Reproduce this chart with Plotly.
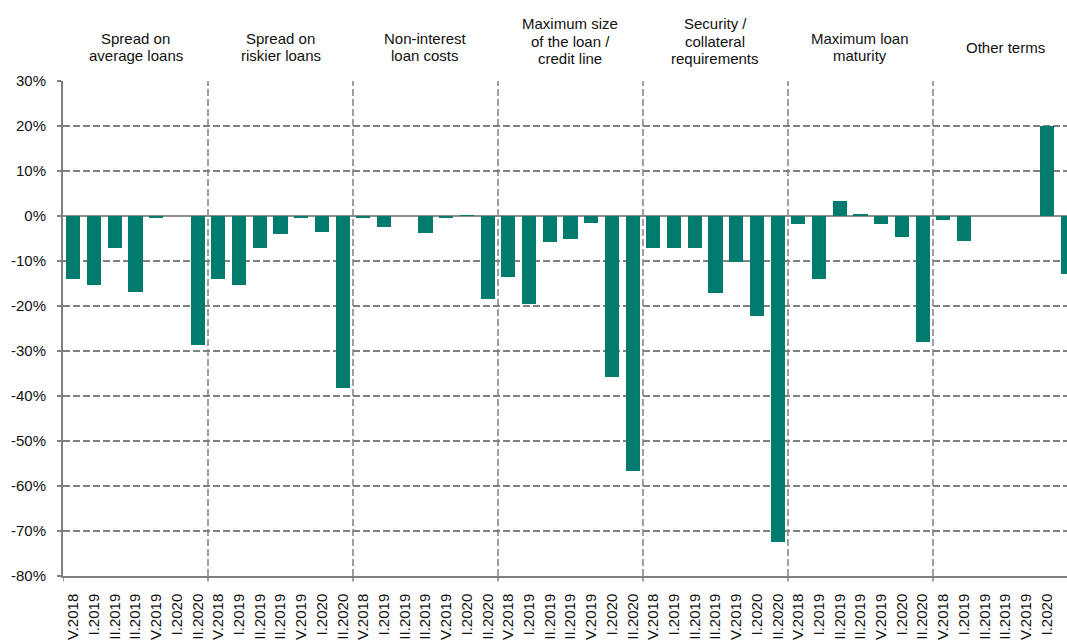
import plotly.graph_objects as go

quarters = ["IV.2018", "I.2019", "II.2019", "III.2019", "IV.2019", "I.2020", "II.2020"]

group_names = [
    ["Spread on", "average loans"],
    ["Spread on", "riskier loans"],
    ["Non-interest", "loan costs"],
    ["Maximum size", "of the loan /", "credit line"],
    ["Security /", "collateral", "requirements"],
    ["Maximum loan", "maturity"],
    ["Other terms"],
]

spread_average = [-14.1, -15.3, -7.1, -16.8, -0.4, 0.0, -28.7]
spread_riskier = [-14.1, -15.3, -7.1, -4.0, -0.4, -3.6, -38.3]
non_interest = [-0.4, -2.5, 0.0, -3.7, -0.4, 0.2, -18.4]
max_size = [-13.6, -19.5, -5.7, -5.2, -1.6, -35.7, -56.6]
collateral = [-7.1, -7.1, -7.1, -17.2, -10.2, -22.2, -72.5]
maturity = [-1.7, -14.1, 3.3, 0.5, -1.7, -4.7, -27.9]
other_terms = [-0.9, -5.5, 0.0, 0.0, 0.0, 20.0, -12.8]

y_ticks = [30, 20, 10, 0, -10, -20, -30, -40, -50, -60, -70, -80]

series = [spread_average, spread_riskier, non_interest, max_size,
          collateral, maturity, other_terms]

# flatten into one bar trace, positions 0..n-1
values = [v for s in series for v in s]
labels = quarters * len(series)
xs = list(range(len(values)))
n_q = len(quarters)

TEAL = "#007b6e"
GRID = "#808080"
FONT = "Liberation Sans, Arial, sans-serif"

TOP = 81          # plot top in px
LINE_H = 17.5

fig = go.Figure()
fig.add_trace(go.Bar(x=xs, y=values, width=0.68,
                     marker=dict(color=TEAL, line=dict(width=0)),
                     showlegend=False))

shapes = []
# dashed dividers between groups + small ticks under the axis
for g in range(1, len(series)):
    xb = g * n_q - 0.5
    shapes.append(dict(type="line", xref="x", yref="paper", x0=xb, x1=xb, y0=0, y1=1,
                       line=dict(color=GRID, width=1.5, dash="7px,3px"), layer="between"))
for g in range(len(series)):
    xb = g * n_q - 0.5
    shapes.append(dict(type="line", xref="x", yref="paper", x0=xb, x1=xb, y0=0, y1=-0.011,
                       line=dict(color=GRID, width=1.5)))

annotations = []
for g, lines in enumerate(group_names):
    n = len(lines)
    center = 41 if n == 3 else 47   # px from top
    for i, line in enumerate(lines):
        ypx = center + (i - (n - 1) / 2) * LINE_H
        annotations.append(dict(x=g * n_q + (n_q - 1) / 2, y=1, xref="x", yref="paper",
                                text=line, showarrow=False, xanchor="center", yanchor="middle",
                                yshift=TOP - ypx,
                                font=dict(family=FONT, size=15, color="#111111")))

fig.update_layout(
    width=1067, height=641,
    template="none",
    plot_bgcolor="white", paper_bgcolor="white",
    margin=dict(l=63, r=0, t=TOP, b=65),
    bargap=0,
    shapes=shapes,
    annotations=annotations,
    font=dict(family=FONT, size=15, color="#111111"),
)

fig.update_xaxes(
    range=[-0.5, 47.97],
    tickmode="array", tickvals=xs, ticktext=labels,
    tickangle=-90, ticks="", ticklabelstandoff=10,
    tickfont=dict(family=FONT, size=15, color="#111111"),
    showgrid=False, zeroline=False,
    showline=True, linecolor=GRID, linewidth=1.5,
    automargin=False,
)

fig.update_yaxes(
    range=[-80, 30],
    tickmode="array", tickvals=y_ticks, ticktext=[f"{v}%" for v in y_ticks],
    ticks="outside", ticklen=4, tickcolor=GRID, tickwidth=1.5,
    ticklabelstandoff=8,
    tickfont=dict(family=FONT, size=15, color="#111111"),
    showgrid=True, gridcolor=GRID, gridwidth=1.5, griddash="7px,3px",
    zeroline=True, zerolinecolor="#8c8c8c", zerolinewidth=2,
    showline=True, linecolor=GRID, linewidth=2,
    automargin=False,
)

# figure fills the window exactly: drop the default page margin
fig.write_html("out.html", config={"displayModeBar": False},
               post_script="document.body.style.margin='0';document.body.style.overflow='hidden';")
